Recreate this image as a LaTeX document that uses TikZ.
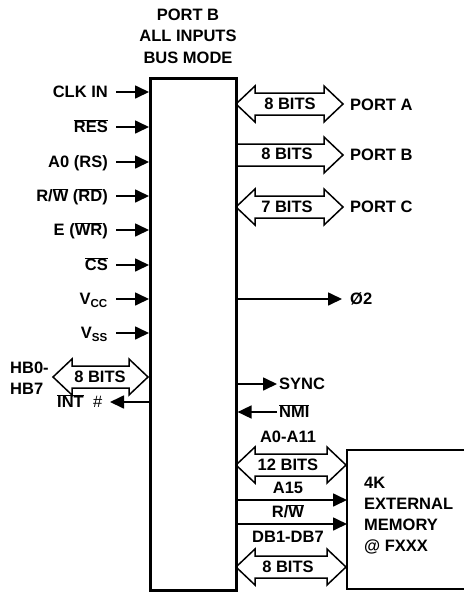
\documentclass[tikz,border=0pt]{standalone}
\usepackage{fontspec}
\setmainfont{Liberation Sans}
\usetikzlibrary{arrows.meta}
\newcommand\ovl[1]{$\overline{\hbox{#1}}$}
\tikzset{
  lbl/.style={font=\bfseries\fontsize{16.5}{20}\selectfont, inner sep=0pt, text height=11.8pt, text depth=0pt},
  sig/.style={line width=1.7pt, -{Triangle[length=14pt,width=13pt]}},
  bus/.style={line width=1.5pt, line join=miter},
  boxline/.style={line width=2.6pt},
}
% double-headed bus arrow: x1, x2, y
\newcommand\dbus[3]{%
  \pgfmathsetmacro\shaftlen{#2-#1-38}%
  \draw[bus] (#1,#3) -- ++(19,-18) -- ++(0,7) -- ++(\shaftlen,0) -- ++(0,-7) -- ++(19,18)
     -- ++(-19,18) -- ++(0,-7) -- ++(-\shaftlen,0) -- ++(0,7) -- cycle;}
% single-headed bus arrow from box edge: x1, x2, y
\newcommand\sbus[3]{%
  \pgfmathsetmacro\shaftlen{#2-#1-19}%
  \draw[bus] (#1,#3) ++(0,-11) -- ++(\shaftlen,0) -- ++(0,-7) -- ++(19,18)
     -- ++(-19,18) -- ++(0,-7) -- ++(-\shaftlen,0);}
\begin{document}
\begin{tikzpicture}[x=1pt,y=-1pt]
\useasboundingbox (0,0) rectangle (464,592);

% title
\node[font=\bfseries\fontsize{16.5}{21.5}\selectfont, align=center, inner sep=0pt] (title) at (188,36) {PORT B\\ALL INPUTS\\BUS MODE};

% main box
\node[draw, boxline, minimum width=86pt, minimum height=512pt, anchor=north west, inner sep=0pt] (mcu) at (149,77) {};

% memory box (open at right)
\coordinate (memtl) at (347,450);
\coordinate (membl) at (347,589);
\draw[boxline] (464,450) -- (memtl) -- (membl) -- (464,589);
\node[lbl, anchor=north west, align=left, text height=, text depth=, font=\bfseries\fontsize{16.5}{21}\selectfont] (mem) at (364,477) {4K\\EXTERNAL\\MEMORY\\@ FXXX};

% left inputs
\foreach \y/\t/\n in {92/{CLK IN}/clk, 127/{\ovl{RES}}/res, 162/{A0 (RS)}/azero,
   196/{R/\ovl{W} (\ovl{RD})}/rw, 230/{E (\ovl{WR})}/e, 265/{\ovl{CS}}/cs,
   299/{V\textsubscript{CC}}/vcc, 333/{V\textsubscript{SS}}/vss}{
  \node[lbl, anchor=east] (\n) at (108,\y) {\t};
  \draw[sig] (116,\y) -- (mcu.west |- \n.east);
}

% HB0-HB7 bus
\node[lbl, anchor=west] (hba) at (10,368) {HB0-};
\node[lbl, anchor=west] (hbb) at (10,389) {HB7};
\dbus{53}{148}{377}
\node[lbl] (hbbits) at (100,377) {8 BITS};

% INT
\node[lbl, anchor=west] (int) at (57,402) {\ovl{INT}\ \ \textit{\mdseries\#}};
\draw[sig] (mcu.west |- int.east) -- (110,402);

% ports
\dbus{236}{343}{104}
\node[lbl] (pabits) at (290,104) {8 BITS};
\node[lbl, anchor=west] (pa) at (350,105) {PORT A};
\sbus{236}{343}{155}
\node[lbl] (pbbits) at (287,154) {8 BITS};
\node[lbl, anchor=west] (pb) at (350,155) {PORT B};
\dbus{236}{343}{207}
\node[lbl] (pcbits) at (287,207) {7 BITS};
\node[lbl, anchor=west] (pc) at (350,207) {PORT C};

% phi2
\node[lbl, anchor=west] (phi) at (350,299) {Ø2};
\draw[sig] (mcu.east |- phi.west) -- (342,299);

% SYNC / NMI
\node[lbl, anchor=west] (sync) at (279,384) {SYNC};
\draw[sig] (mcu.east |- sync.west) -- (277,384);
\node[lbl, anchor=west] (nmi) at (279,412) {\ovl{NMI}};
\draw[sig] (277,412) -- (mcu.east |- nmi.west);

% external memory buses
\node[lbl] (addr) at (288,437) {A0-A11};
\dbus{236}{346}{465}
\node[lbl] (abits) at (288,465) {12 BITS};
\node[lbl] (afift) at (288,488) {A15};
\coordinate (a15m) at (347,500);
\draw[sig] (mcu.east |- a15m) -- (a15m);
\node[lbl] (rwm) at (288,512) {R/\ovl{W}};
\coordinate (rwmm) at (347,524);
\draw[sig] (mcu.east |- rwmm) -- (rwmm);
\node[lbl] (db) at (288,537) {DB1-DB7};
\dbus{236}{346}{567}
\node[lbl] (dbits) at (288,567) {8 BITS};
\end{tikzpicture}
\end{document}
